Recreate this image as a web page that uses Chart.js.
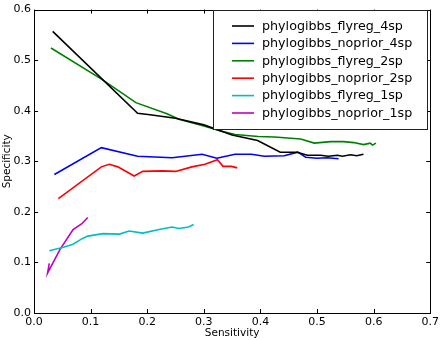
<!DOCTYPE html>
<html>
<head>
<meta charset="utf-8">
<script src="https://cdn.jsdelivr.net/npm/chart.js@4.4.1/dist/chart.umd.min.js"></script>
<style>
html,body{margin:0;padding:0;background:#fff;}
#wrap{width:442px;height:340px;position:relative;}
</style>
</head>
<body>
<div id="wrap"><canvas id="c" width="442" height="340"></canvas></div>
<script>
const seriesNames = ['phylogibbs_flyreg_4sp','phylogibbs_noprior_4sp','phylogibbs_flyreg_2sp','phylogibbs_noprior_2sp','phylogibbs_flyreg_1sp','phylogibbs_noprior_1sp'];
const seriesColors = ['#000000','#0000ff','#008000','#ff0000','#00bfbf','#bf00bf'];

const flyreg4spX = [0.033,0.183,0.205,0.25,0.30,0.35,0.395,0.435,0.465,0.483,0.506,0.52,0.536,0.545,0.559,0.57,0.582];
const flyreg4spY = [0.557,0.395,0.392,0.385,0.372,0.352,0.341,0.318,0.318,0.312,0.312,0.310,0.312,0.310,0.313,0.311,0.314];

const noprior4spX = [0.036,0.119,0.183,0.244,0.297,0.323,0.355,0.384,0.407,0.442,0.466,0.480,0.500,0.518,0.538];
const noprior4spY = [0.274,0.327,0.310,0.307,0.314,0.306,0.314,0.314,0.310,0.311,0.318,0.308,0.306,0.307,0.305];

const flyreg2spX = [0.030,0.12,0.18,0.235,0.256,0.30,0.33,0.355,0.396,0.425,0.448,0.471,0.495,0.524,0.547,0.565,0.582,0.594,0.598,0.604];
const flyreg2spY = [0.524,0.462,0.416,0.394,0.383,0.370,0.360,0.353,0.349,0.348,0.346,0.344,0.336,0.339,0.339,0.337,0.333,0.336,0.332,0.336];

const noprior2spX = [0.043,0.119,0.133,0.148,0.177,0.192,0.227,0.250,0.279,0.302,0.324,0.334,0.349,0.359];
const noprior2spY = [0.226,0.289,0.294,0.289,0.271,0.280,0.281,0.280,0.289,0.294,0.303,0.290,0.290,0.287];

const flyreg1spX = [0.027,0.052,0.069,0.085,0.095,0.122,0.151,0.168,0.192,0.221,0.244,0.256,0.273,0.282];
const flyreg1spY = [0.123,0.130,0.136,0.147,0.152,0.157,0.156,0.162,0.158,0.165,0.170,0.167,0.170,0.175];

const noprior1spX = [0.027,0.024,0.046,0.069,0.084,0.095];
const noprior1spY = [0.098,0.079,0.126,0.165,0.176,0.189];

const xTickLabels = ['0.0','0.1','0.2','0.3','0.4','0.5','0.6','0.7'];
const yTickLabels = ['0.0','0.1','0.2','0.3','0.4','0.5','0.6'];

const allX = [flyreg4spX,noprior4spX,flyreg2spX,noprior2spX,flyreg1spX,noprior1spX];
const allY = [flyreg4spY,noprior4spY,flyreg2spY,noprior2spY,flyreg1spY,noprior1spY];

const FONT = 'DejaVu Sans';

const datasets = seriesNames.map((name,i)=>({
  label: name,
  data: allX[i].map((x,j)=>({x:x,y:allY[i][j]})),
  borderColor: seriesColors[i],
  backgroundColor: seriesColors[i],
  borderWidth: 1.6,
  showLine: true,
  pointRadius: 0,
  tension: 0,
  fill: false
}));

const framePlugin = {
  id:'frame',
  afterDatasetsDraw(chart){
    const ctx = chart.ctx, a = chart.chartArea;
    const xs = chart.scales.x, ys = chart.scales.y;
    ctx.save();
    ctx.strokeStyle = '#000';
    ctx.lineWidth = 1;
    xTickLabels.forEach(t=>{
      const px = Math.round(xs.getPixelForValue(parseFloat(t)))+0.5;
      ctx.beginPath();
      ctx.moveTo(px,a.bottom); ctx.lineTo(px,a.bottom-4);
      ctx.moveTo(px,a.top); ctx.lineTo(px,a.top+4);
      ctx.stroke();
    });
    yTickLabels.forEach(t=>{
      const py = Math.round(ys.getPixelForValue(parseFloat(t)))+0.5;
      ctx.beginPath();
      ctx.moveTo(a.left,py); ctx.lineTo(a.left+4,py);
      ctx.moveTo(a.right,py); ctx.lineTo(a.right-4,py);
      ctx.stroke();
    });
    ctx.strokeRect(Math.round(a.left)+0.5, Math.round(a.top)+0.5, Math.round(a.right-a.left), Math.round(a.bottom-a.top));
    // legend
    const bx=213.5, by=10.5, bw=214, bh=119;
    ctx.fillStyle='#fff';
    ctx.fillRect(bx,by,bw,bh);
    ctx.strokeStyle='#222';
    ctx.strokeRect(bx,by,bw,bh);
    ctx.font = '12.7px "'+FONT+'"';
    ctx.textBaseline='middle';
    ctx.textAlign='left';
    chart.data.datasets.forEach((ds,i)=>{
      const y = 26 + i*17.4;
      ctx.strokeStyle = ds.borderColor;
      ctx.lineWidth = 1.6;
      ctx.beginPath(); ctx.moveTo(232,y); ctx.lineTo(254,y); ctx.stroke();
      ctx.fillStyle='#000';
      ctx.fillText(ds.label, 262, y+0.5);
    });
    ctx.restore();
  }
};

new Chart(document.getElementById('c'),{
  type:'scatter',
  data:{datasets:datasets},
  options:{
    responsive:false,
    animation:false,
    events:[],
    layout:{padding:{top:5,right:9,bottom:0,left:0}},
    plugins:{legend:{display:false},tooltip:{enabled:false}},
    scales:{
      x:{
        type:'linear', min:0, max:0.7,
        afterFit(s){ s.height = 27; },
        afterBuildTicks(s){ s.ticks = xTickLabels.map(t=>({value:parseFloat(t)})); },
        grid:{display:false, drawTicks:false},
        border:{display:false},
        ticks:{
          color:'#000', padding:3,
          font:{family:FONT,size:11},
          maxRotation:0,
          callback:(v,i)=>xTickLabels[i]
        },
        title:{display:true,text:'Sensitivity',color:'#000',font:{family:FONT,size:10.5},padding:{top:0,bottom:0}}
      },
      y:{
        type:'linear', min:0, max:0.6,
        afterFit(s){ s.width = 34; },
        afterBuildTicks(s){ s.ticks = yTickLabels.map(t=>({value:parseFloat(t)})); },
        grid:{display:false, drawTicks:false},
        border:{display:false},
        ticks:{
          color:'#000', padding:3,
          font:{family:FONT,size:11},
          callback:(v,i)=>yTickLabels[i]
        },
        title:{display:true,text:'Specificity',color:'#000',font:{family:FONT,size:10.5},padding:{top:1,bottom:0}}
      }
    }
  },
  plugins:[framePlugin]
});
</script>
</body>
</html>
